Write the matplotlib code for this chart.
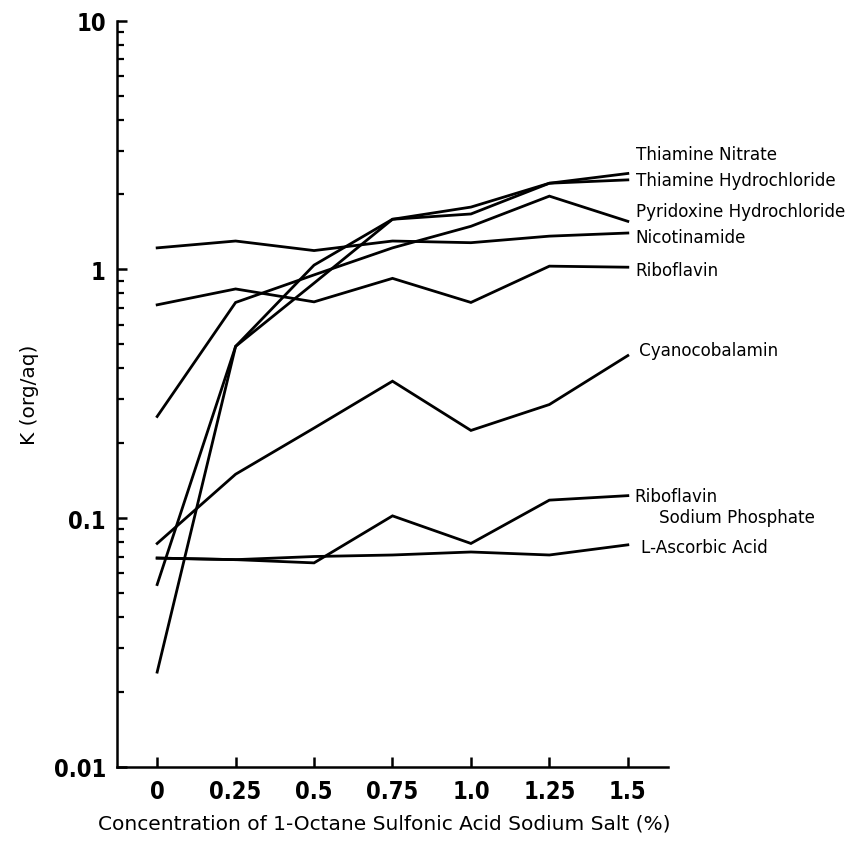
import matplotlib
matplotlib.use("Agg")
import matplotlib.pyplot as plt
from matplotlib import font_manager as fm
from matplotlib.ticker import FixedLocator, LogLocator, NullFormatter

# concentration of 1-octane sulfonic acid sodium salt (%)
conc = [0, 0.25, 0.5, 0.75, 1.0, 1.25, 1.5]
conc_labels = ["0", "0.25", "0.5", "0.75", "1.0", "1.25", "1.5"]

# K (org/aq)
thiamine_nitrate = [0.024, 0.49, 1.04, 1.59, 1.78, 2.22, 2.43]
thiamine_hcl = [0.054, 0.49, 0.88, 1.59, 1.67, 2.22, 2.29]
pyridoxine_hcl = [0.256, 0.736, 0.95, 1.22, 1.49, 1.97, 1.56]
nicotinamide = [1.22, 1.30, 1.19, 1.30, 1.28, 1.36, 1.40]
riboflavin = [0.72, 0.834, 0.74, 0.92, 0.736, 1.03, 1.02]
cyanocobalamin = [0.079, 0.15, 0.23, 0.355, 0.225, 0.286, 0.45]
riboflavin_sp = [0.069, 0.068, 0.066, 0.102, 0.079, 0.118, 0.123]
ascorbic_acid = [0.069, 0.068, 0.070, 0.071, 0.073, 0.071, 0.078]

series = [
    ("Thiamine Nitrate", thiamine_nitrate),
    ("Thiamine Hydrochloride", thiamine_hcl),
    ("Pyridoxine Hydrochloride", pyridoxine_hcl),
    ("Nicotinamide", nicotinamide),
    ("Riboflavin", riboflavin),
    ("Cyanocobalamin", cyanocobalamin),
    ("Riboflavin", riboflavin_sp),
    ("L-Ascorbic Acid", ascorbic_acid),
]

# label offsets from the line ends, in pixels
label_offsets = [(8, 19), (8, 0), (8, 10), (8, -4), (8, -3), (11, 6), (7, 0), (13, -2)]

label_font = ["DejaVu Sans"]


def narrow_bold_font(size):
    # the original tick labels use a condensed bold face; pick one if installed
    for f in fm.fontManager.ttflist:
        name = f.name.lower()
        if f.weight in ("bold", 700, "heavy", "black", 800, 900) and (
                "condensed" in str(f.stretch) or "narrow" in name or "condensed" in name):
            return fm.FontProperties(fname=f.fname, size=size)
    return fm.FontProperties(family=["Roboto", "DejaVu Sans"], weight="bold", size=size)


tick_prop = narrow_bold_font(17)

fig = plt.figure(figsize=(8.49, 8.54), dpi=100)
ax = fig.add_axes([0.1378, 0.1011, 0.649, 0.8735])

for (name, vals), (dx, dy) in zip(series, label_offsets):
    ax.plot(conc, vals, color="black", lw=2.0, solid_joinstyle="miter")
    ax.annotate(name, xy=(conc[-1], vals[-1]), xytext=(dx, dy),
                textcoords="offset pixels", va="center", ha="left",
                fontsize=12.1, family=label_font)

# second line of the riboflavin sodium phosphate label
ax.annotate("Sodium Phosphate", xy=(conc[-1], riboflavin_sp[-1]), xytext=(31, -21),
            textcoords="offset pixels", va="center", ha="left",
            fontsize=12.1, family=label_font)

ax.set_yscale("log")
ax.set_ylim(0.01, 10)
ax.set_xlim(-0.128, 1.628)

ax.xaxis.set_major_locator(FixedLocator(conc))
ax.set_xticklabels(conc_labels)
ax.yaxis.set_major_locator(FixedLocator([0.01, 0.1, 1, 10]))
ax.set_yticklabels(["0.01", "0.1", "1", "10"])
ax.yaxis.set_minor_locator(LogLocator(base=10, subs=range(2, 10)))
ax.yaxis.set_minor_formatter(NullFormatter())

for s in ["top", "right"]:
    ax.spines[s].set_visible(False)
for s in ["left", "bottom"]:
    ax.spines[s].set_linewidth(1.8)

ax.tick_params(axis="both", which="major", direction="in", length=7, width=1.8)
ax.tick_params(axis="y", which="minor", direction="in", length=5, width=1.6)
ax.tick_params(axis="x", pad=9)
ax.tick_params(axis="y", pad=8)
for lab in ax.get_xticklabels() + ax.get_yticklabels():
    lab.set_fontproperties(tick_prop)

ax.set_xlabel("Concentration of 1-Octane Sulfonic Acid Sodium Salt (%)",
              fontsize=14.5, family=label_font)
ax.set_ylabel("K (org/aq)", fontsize=14.5, family=label_font)
ax.xaxis.set_label_coords(0.485, -0.0755)
ax.yaxis.set_label_coords(-0.158, 0.5)
ax.xaxis.label.set_va("center")
ax.yaxis.label.set_va("center")

fig.savefig("out.png", dpi=100)
